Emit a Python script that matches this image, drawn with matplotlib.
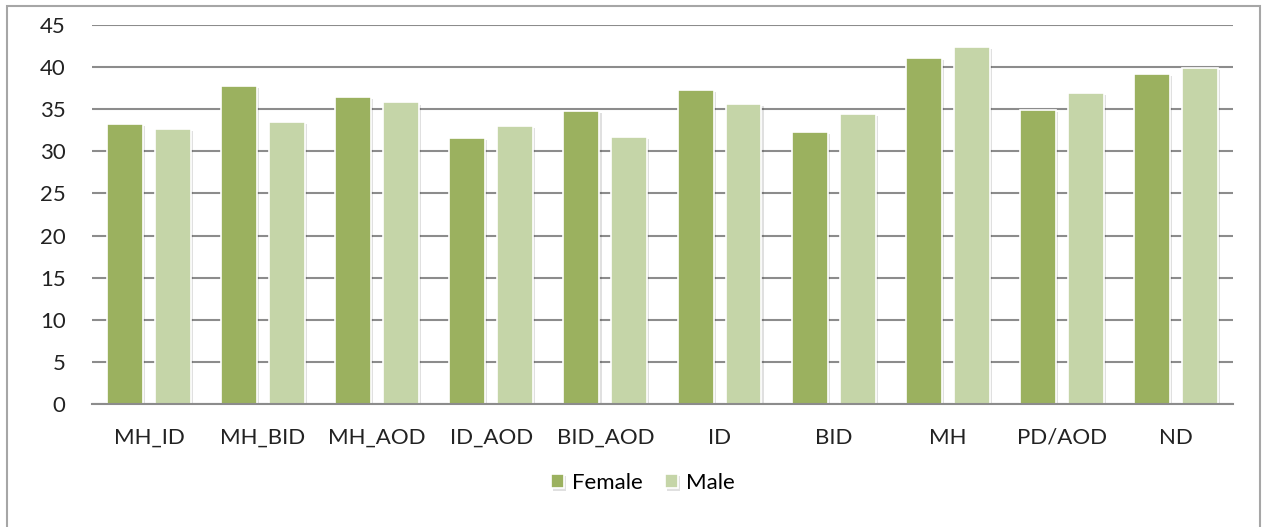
import numpy as np
import matplotlib.pyplot as plt
from matplotlib.patches import Rectangle
import matplotlib.patheffects as pe

plt.rcParams['font.family'] = ['Lato', 'DejaVu Sans']

# カテゴリと男女別の値
categories = ['MH_ID', 'MH_BID', 'MH_AOD', 'ID_AOD', 'BID_AOD',
              'ID', 'BID', 'MH', 'PD/AOD', 'ND']
female = [33.3, 37.8, 36.5, 31.6, 34.8, 37.3, 32.3, 41.1, 34.9, 39.2]
male = [32.7, 33.5, 35.8, 33.0, 31.7, 35.6, 34.4, 42.4, 36.9, 39.9]
yticks = [0, 5, 10, 15, 20, 25, 30, 35, 40, 45]

female_color = '#9bb15f'
male_color = '#c5d5a8'
grid_color = '#8c8c8c'

fig = plt.figure(figsize=(12.65, 5.27), dpi=100)
ax = fig.add_axes([0.0727, 0.2334, 0.9020, 0.7192])

x = np.arange(len(categories))
w = 0.315
shadow = [pe.SimplePatchShadow(offset=(1.5, -1.5), shadow_rgbFace='#000000', alpha=0.12), pe.Normal()]
b1 = ax.bar(x - 0.21, female, w, color=female_color, edgecolor='white', linewidth=1.2,
            label='Female', zorder=3)
b2 = ax.bar(x + 0.21, male, w, color=male_color, edgecolor='white', linewidth=1.2,
            label='Male', zorder=3)
for bar in list(b1) + list(b2):
    bar.set_path_effects(shadow)

# 軸の設定
ax.set_xlim(-0.5, len(categories) - 0.5)
ax.set_ylim(0, 45)
ax.set_yticks(yticks)
ax.set_yticklabels([str(t) for t in yticks], fontsize=16)
ax.set_xticks(x)
ax.set_xticklabels(categories, fontsize=16)
ax.tick_params(axis='both', length=0, colors='#222222')
ax.tick_params(axis='x', pad=17)
ax.tick_params(axis='y', pad=19)

for s in ['top', 'right', 'left']:
    ax.spines[s].set_visible(False)
ax.spines['bottom'].set_color(grid_color)
ax.spines['bottom'].set_linewidth(1.5)
ax.spines['bottom'].set_zorder(4)

ax.yaxis.grid(True, color=grid_color, linewidth=1.5, zorder=0)
ax.set_axisbelow(True)

leg = fig.legend(loc='center', bbox_to_anchor=(0.508, 0.083), ncol=2, frameon=False,
                 fontsize=16, handlelength=0.6, handleheight=0.6, handletextpad=0.35,
                 columnspacing=1.0)

# 外枠
fig.patches.append(Rectangle((7 / 1265, -0.01), (1260 - 7) / 1265, 1 - 6 / 527 + 0.01,
                             transform=fig.transFigure, fill=False,
                             edgecolor='#a6a6a6', linewidth=1.5))

fig.savefig('out.png', dpi=100)
